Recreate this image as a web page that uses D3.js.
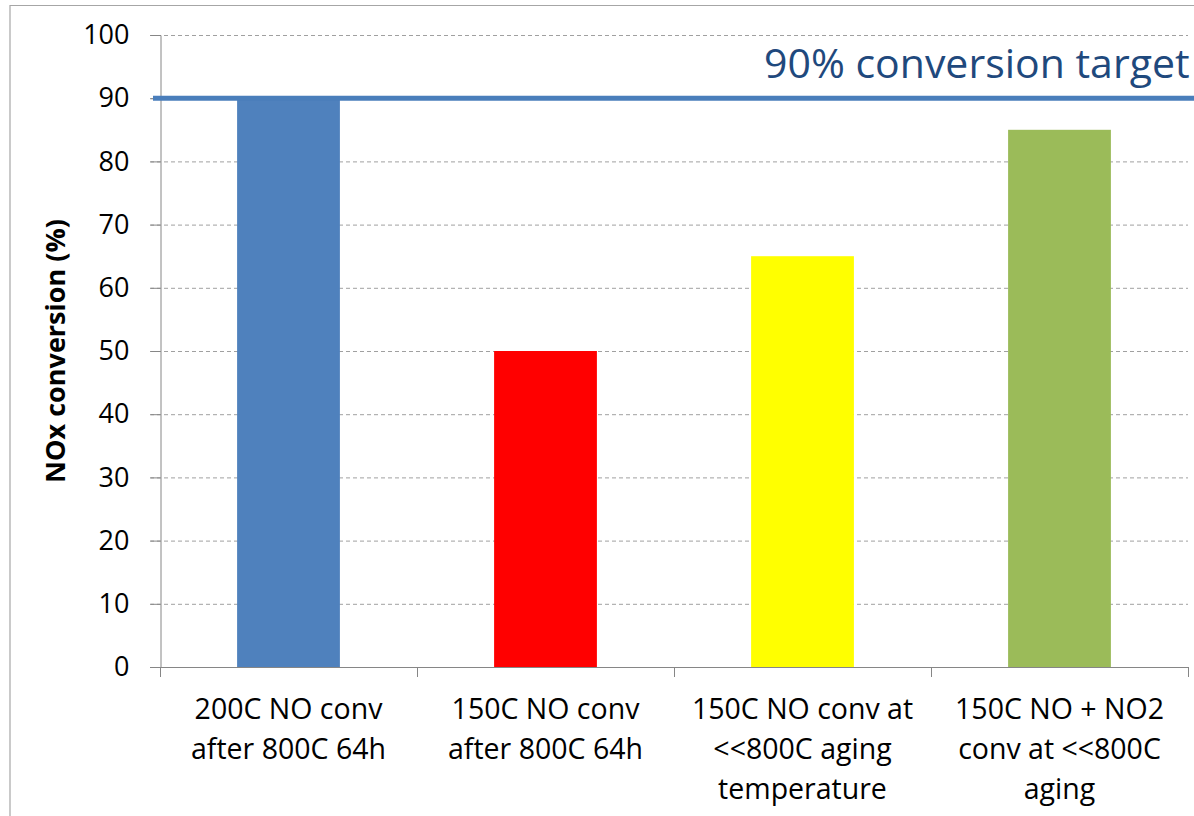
<!DOCTYPE html>
<html>
<head>
<meta charset="utf-8">
<script src="https://cdn.jsdelivr.net/npm/d3@7"></script>
<style>
  html, body { margin: 0; padding: 0; background: #fff; }
  svg { display: block; }
</style>
</head>
<body>
<svg id="chart" width="1194" height="816"></svg>
<script>
// NOx conversion per test condition
const categories = [
  ["200C NO conv", "after 800C 64h"],
  ["150C NO conv", "after 800C 64h"],
  ["150C NO conv at", "<<800C aging", "temperature"],
  ["150C NO + NO2", "conv at <<800C", "aging"]
];
const values = [90, 50, 65, 85];
const barColors = ["#4f81bd", "#ff0000", "#ffff00", "#9bbb59"];
const yTicks = [0, 10, 20, 30, 40, 50, 60, 70, 80, 90, 100];
const targetValue = 90;
const targetLabel = "90% conversion target";
const yTitle = "NOx conversion (%)";

const svg = d3.select("#chart");
const W = 1194, H = 816;
const plot = { left: 160, right: 1188, top: 35, bottom: 667 };
const font = "'Open Sans', 'Noto Sans', sans-serif";

// outer chart frame (partially visible)
svg.append("line").attr("x1", 10).attr("x2", W).attr("y1", 5.5).attr("y2", 5.5)
  .attr("stroke", "#a6a6a6").attr("stroke-width", 1.2);
svg.append("line").attr("x1", 10).attr("x2", 10).attr("y1", 5).attr("y2", H)
  .attr("stroke", "#a6a6a6").attr("stroke-width", 1.2);

const keys = categories.map((d, i) => i);
const x = d3.scaleBand().domain(keys).range([plot.left, plot.right])
  .paddingInner(0.6).paddingOuter(0.3);
const y = d3.scaleLinear().domain([0, 100]).range([plot.bottom, plot.top]);

// dashed horizontal gridlines
svg.append("g").selectAll("line").data(yTicks.filter(t => t > 0)).join("line")
  .attr("x1", plot.left - 10).attr("x2", plot.right)
  .attr("y1", d => y(d) + 0.5).attr("y2", d => y(d) + 0.5)
  .attr("stroke", "#a0a0a0").attr("stroke-width", 1)
  .attr("stroke-dasharray", "4,3");

// bars
svg.append("g").selectAll("rect").data(values).join("rect")
  .attr("x", (d, i) => x(i))
  .attr("width", x.bandwidth())
  .attr("y", d => y(d))
  .attr("height", d => y(0) - y(d))
  .attr("fill", (d, i) => barColors[i]);

// y axis
const yAxis = svg.append("g").attr("transform", `translate(${plot.left + 0.5},0)`)
  .call(d3.axisLeft(y).tickValues(yTicks).tickSize(10).tickPadding(21));
yAxis.select(".domain").attr("stroke", "#868686");
yAxis.selectAll(".tick line").attr("stroke", "#868686");
yAxis.selectAll(".tick text").attr("font-family", font).attr("font-size", 27)
  .attr("fill", "#000");

// x axis with category boundary ticks
const xAxisG = svg.append("g");
xAxisG.append("line").attr("x1", plot.left - 10).attr("x2", plot.right)
  .attr("y1", plot.bottom + 0.5).attr("y2", plot.bottom + 0.5)
  .attr("stroke", "#868686");
const bounds = d3.range(categories.length + 1).map(i => plot.left + i * (plot.right - plot.left) / categories.length);
xAxisG.selectAll("line.tk").data(bounds).join("line").attr("class", "tk")
  .attr("x1", d => d + 0.5).attr("x2", d => d + 0.5)
  .attr("y1", plot.bottom).attr("y2", plot.bottom + 10)
  .attr("stroke", "#868686");

// category labels
const labels = svg.append("g").selectAll("text").data(categories).join("text")
  .attr("font-family", font).attr("font-size", 28.5).attr("fill", "#000")
  .attr("text-anchor", "middle");
labels.each(function(lines, i) {
  const cx = x(i) + x.bandwidth() / 2;
  d3.select(this).selectAll("tspan").data(lines).join("tspan")
    .attr("x", cx).attr("y", (d, j) => 719 + j * 40).text(d => d);
});

// 90% target line
svg.append("line").attr("x1", 153).attr("x2", W)
  .attr("y1", y(targetValue)).attr("y2", y(targetValue))
  .attr("stroke", "#4a7ebb").attr("stroke-width", 5);
svg.append("text").attr("x", 764).attr("y", 78)
  .attr("font-family", font).attr("font-size", 41).attr("fill", "#1f497d")
  .text(targetLabel);

// y axis title
svg.append("text")
  .attr("transform", `translate(65,${(plot.top + plot.bottom) / 2}) rotate(-90)`)
  .attr("text-anchor", "middle")
  .attr("font-family", font).attr("font-size", 27).attr("font-weight", "bold")
  .attr("fill", "#000").text(yTitle);
</script>
</body>
</html>
